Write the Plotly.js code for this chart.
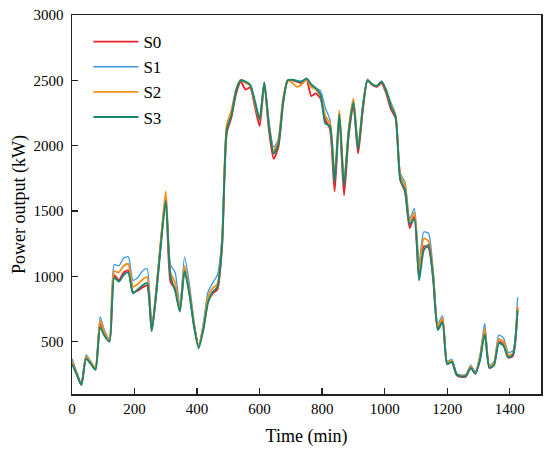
<!DOCTYPE html>
<html>
<head>
<meta charset="utf-8">
<script src="https://cdn.plot.ly/plotly-3.0.1.min.js"></script>
<style>html,body{margin:0;padding:0;background:#fff;}#chart{width:550px;height:457px;}</style>
</head>
<body>
<div id="chart"></div>
<script>
// Time in minutes (15-min resolution)
const timeMin = [0,15,30,45,60,75,90,105,120,135,150,165,180,195,210,225,240,255,270,285,300,315,330,345,360,375,390,405,420,435,450,465,480,495,510,525,540,555,570,585,600,615,630,645,660,675,690,705,720,735,750,765,780,795,810,825,840,855,870,885,900,915,930,945,960,975,990,1005,1020,1035,1050,1065,1080,1095,1110,1125,1140,1155,1170,1185,1200,1215,1230,1245,1260,1275,1290,1305,1320,1335,1350,1365,1380,1395,1410,1425];

const seriesNames = ["S0","S1","S2","S3"];

const s0 = [340,255,170,380,335,290,640,555,505,1010,970,1030,1045,880,890,915,930,585,890,1280,1600,960,900,740,1060,880,630,470,600,810,870,900,1230,2100,2220,2400,2490,2430,2445,2300,2150,2475,2120,1900,1990,2320,2500,2500,2490,2480,2510,2380,2400,2360,2200,2130,1650,2230,1620,2080,2320,1940,2270,2500,2465,2450,2480,2400,2280,2210,1740,1650,1370,1460,1000,1230,1220,1000,600,660,330,350,245,230,235,300,255,370,580,300,330,500,480,380,390,760];

const s1 = [370,270,175,400,350,300,690,580,520,1090,1080,1140,1150,970,990,1040,1060,620,930,1300,1590,1090,1030,770,1150,950,660,470,640,880,950,1010,1300,2150,2260,2440,2500,2480,2465,2340,2220,2490,2180,1990,2050,2350,2500,2505,2495,2495,2515,2460,2440,2420,2290,2200,1750,2220,1720,2130,2350,2000,2310,2510,2470,2460,2495,2430,2330,2240,1790,1720,1440,1520,1100,1340,1330,1050,640,700,350,365,260,245,250,320,270,400,640,320,350,550,530,420,430,840];

const s2 = [350,260,170,385,340,295,660,565,510,1040,1030,1080,1095,920,940,975,995,600,910,1300,1650,1030,950,750,1080,900,640,460,620,840,910,940,1280,2160,2270,2430,2505,2480,2460,2320,2200,2480,2160,1960,2040,2360,2500,2480,2450,2470,2510,2450,2430,2380,2230,2170,1760,2270,1720,2130,2360,1990,2300,2500,2470,2460,2490,2420,2310,2230,1770,1700,1420,1490,1050,1290,1270,1020,620,680,340,355,250,240,245,310,260,385,600,310,340,520,500,400,410,770];

const s3 = [330,250,170,370,330,285,610,540,500,990,960,1010,1030,870,900,930,950,580,880,1260,1580,1000,890,730,1040,870,620,450,590,800,880,920,1250,2120,2230,2420,2500,2490,2465,2340,2200,2480,2150,1940,2010,2330,2500,2505,2495,2490,2515,2470,2440,2390,2170,2150,1720,2240,1690,2100,2330,1970,2290,2500,2470,2455,2490,2420,2300,2220,1740,1660,1400,1440,970,1200,1240,980,590,650,330,345,250,235,240,300,255,360,560,300,320,490,470,380,400,740];

const xTickVals = [0,200,400,600,800,1000,1200,1400];
const yTickVals = [500,1000,1500,2000,2500,3000];

const values = [s0, s1, s2, s3];
const colors = ["#e8232b", "#3a97e2", "#f5901e", "#17876f"];
const widths = [1.9, 1.3, 1.9, 1.9];

const traces = values.map((v, i) => ({
  x: timeMin,
  y: v,
  name: seriesNames[i],
  type: "scatter",
  mode: "lines",
  line: {color: colors[i], width: widths[i], shape: "spline", smoothing: 0.6}
}));

const serif = "Liberation Serif, Times New Roman, serif";

const layout = {
  width: 550,
  height: 457,
  margin: {l: 72, r: 9, t: 15, b: 63},
  paper_bgcolor: "#fff",
  plot_bgcolor: "#fff",
  font: {family: serif, color: "#000", size: 15},
  showlegend: true,
  legend: {
    x: 0.035, y: 0.976, xanchor: "left", yanchor: "top",
    bgcolor: "rgba(0,0,0,0)",
    font: {family: serif, size: 17, color: "#000"},
    itemwidth: 45
  },
  xaxis: {
    range: [0, 1500],
    tickvals: xTickVals,
    ticks: "inside",
    ticklen: 6,
    tickwidth: 1.3,
    tickcolor: "#222",
    showline: true,
    linecolor: "#222",
    linewidth: 1.5,
    mirror: true,
    showgrid: false,
    zeroline: false,
    tickfont: {family: serif, size: 15, color: "#000"},
    title: {text: "Time (min)", font: {family: serif, size: 18, color: "#000"}, standoff: 14}
  },
  yaxis: {
    range: [100, 3000],
    tickvals: yTickVals,
    ticks: "inside",
    ticklen: 6,
    tickwidth: 1.3,
    tickcolor: "#222",
    showline: true,
    linecolor: "#222",
    linewidth: 1.5,
    mirror: true,
    showgrid: false,
    zeroline: false,
    ticklabelstandoff: 4,
    tickfont: {family: serif, size: 15, color: "#000"},
    title: {text: "Power output (kW)", font: {family: serif, size: 18, color: "#000"}, standoff: 3}
  }
};

Plotly.newPlot("chart", traces, layout, {displayModeBar: false, staticPlot: true});
</script>
</body>
</html>
